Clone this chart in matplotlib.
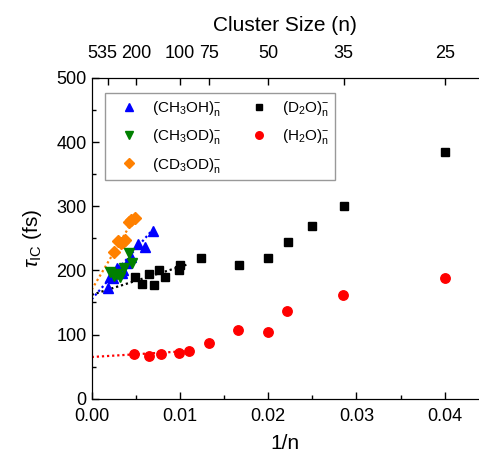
import matplotlib
matplotlib.use("Agg")
import matplotlib.pyplot as plt
from matplotlib.transforms import ScaledTranslation

plt.rcParams["font.family"] = ["Liberation Sans", "DejaVu Sans"]
plt.rcParams["mathtext.fontset"] = "custom"
plt.rcParams["mathtext.rm"] = "Liberation Sans"
plt.rcParams["mathtext.it"] = "Liberation Sans:italic"
plt.rcParams["mathtext.bf"] = "Liberation Sans:bold"

# Internal-conversion lifetimes vs inverse cluster size
ch3oh_x = [0.0019, 0.0021, 0.0024, 0.0026, 0.0029, 0.0031, 0.0034, 0.0035,
           0.0040, 0.0045, 0.0053, 0.0060, 0.0070]
ch3oh_y = [172, 190, 188, 196, 204, 201, 196, 201, 212, 221, 241, 237, 262]

ch3od_x = [0.0021, 0.0025, 0.0029, 0.0032, 0.0037, 0.0042, 0.0046]
ch3od_y = [197, 192, 195, 190, 204, 227, 212]

cd3od_x = [0.0025, 0.0030, 0.0033, 0.0036, 0.0038, 0.0042, 0.0045, 0.0049]
cd3od_y = [228, 246, 242, 244, 248, 275, 279, 281]

d2o_x = [0.0049, 0.0057, 0.0065, 0.0071, 0.0076, 0.0083, 0.0099, 0.0100,
         0.0124, 0.0167, 0.0200, 0.0222, 0.0250, 0.0286, 0.0400]
d2o_y = [190, 179, 195, 177, 201, 189, 200, 208, 220, 209, 220, 245, 269, 301, 385]

h2o_x = [0.0048, 0.0065, 0.0079, 0.0099, 0.0110, 0.0133, 0.0166, 0.0200,
         0.0221, 0.0285, 0.0400]
h2o_y = [70, 66, 70, 72, 75, 87, 107, 104, 137, 161, 188]

# Linear extrapolations to the bulk limit (1/n -> 0)
ch3oh_fit_x = [0.0, 0.0068]
ch3oh_fit_y = [155, 262]
cd3od_fit_x = [0.0, 0.0048]
cd3od_fit_y = [170, 281]
d2o_fit_x = [0.0, 0.0110]
d2o_fit_y = [162, 210]
h2o_fit_x = [0.0, 0.0105]
h2o_fit_y = [65, 74]

# Upper axis: cluster sizes
top_sizes = [535, 200, 100, 75, 50, 35, 25]

W, H = 479, 453
fig = plt.figure(figsize=(W / 100, H / 100), dpi=100)
x0, x1, y0, y1 = 91.7, 479.0, 398.7, 78.0
ax = fig.add_axes([x0 / W, (H - y0) / H, (x1 - x0) / W, (y0 - y1) / H])

xmax = (x1 - x0) / 8825.0
ax.set_xlim(0, xmax)
ax.set_ylim(0, 500)

dot = (0, (1, 1.3))
ax.plot(d2o_fit_x, d2o_fit_y, color="black", ls=dot, lw=1.6, zorder=2)
ax.plot(h2o_fit_x, h2o_fit_y, color="red", ls=dot, lw=1.6, zorder=2)
ax.plot(ch3oh_fit_x, ch3oh_fit_y, color="blue", ls=dot, lw=1.6, zorder=2)
ax.plot(cd3od_fit_x, cd3od_fit_y, color="#FF8000", ls=dot, lw=1.6, zorder=2)

h1, = ax.plot(ch3oh_x, ch3oh_y, ls="none", marker="^", ms=7.5, color="blue",
              label=r"(CH$_3$OH)$_{\rm n}^{-}$", zorder=3)
h2, = ax.plot(ch3od_x, ch3od_y, ls="none", marker="v", ms=7.5, color="#008000",
              label=r"(CH$_3$OD)$_{\rm n}^{-}$", zorder=4)
h3, = ax.plot(cd3od_x, cd3od_y, ls="none", marker="D", ms=6, color="#FF8000",
              label=r"(CD$_3$OD)$_{\rm n}^{-}$", zorder=3)
h4, = ax.plot(d2o_x, d2o_y, ls="none", marker="s", ms=6, color="black",
              label=r"(D$_2$O)$_{\rm n}^{-}$", zorder=3)
h5, = ax.plot(h2o_x, h2o_y, ls="none", marker="o", ms=6.8, color="red",
              label=r"(H$_2$O)$_{\rm n}^{-}$", zorder=3)

ax.set_xticks([0.0, 0.01, 0.02, 0.03, 0.04])
ax.set_xticks([0.005, 0.015, 0.025, 0.035], minor=True)
ax.set_xticklabels(["0.00", "0.01", "0.02", "0.03", "0.04"])
ax.set_yticks([0, 100, 200, 300, 400, 500])
ax.set_yticks([50, 150, 250, 350, 450], minor=True)
ax.tick_params(which="both", direction="in", labelsize=13, width=1, top=False, right=False)
ax.tick_params(axis="x", which="major", pad=6.5)
ax.tick_params(which="major", length=5)
ax.tick_params(which="minor", length=3)
ax.spines["right"].set_visible(False)

ax.set_xlabel("1/n", fontsize=15, labelpad=7)
ax.set_ylabel(r"$\tau_{\rm IC}$ (fs)", fontsize=15, labelpad=9)

ax2 = ax.twiny()
ax2.set_xlim(ax.get_xlim())
ax2.set_xticks([1.0 / n for n in top_sizes])
ax2.set_xticklabels([str(n) for n in top_sizes])
ax2.tick_params(direction="in", length=5, width=1, labelsize=13, pad=11.5)
ax2.spines["right"].set_visible(False)
ax2.set_xlabel("Cluster Size (n)", fontsize=15, labelpad=10)
first = ax2.get_xticklabels()[0]
first.set_transform(first.get_transform() + ScaledTranslation(-6 / 100, 0, fig.dpi_scale_trans))

leg = ax.legend(handles=[h1, h2, h3, h4, h5], ncol=2, loc="upper left",
                bbox_to_anchor=(0.034, 0.952), borderaxespad=0, fontsize=11,
                frameon=True, fancybox=False, edgecolor="#808080",
                markerscale=0.8, handlelength=2.5, handletextpad=0.25,
                columnspacing=1.2, labelspacing=0.62, borderpad=0.36)
leg.get_frame().set_linewidth(1.0)

fig.savefig("out.png", dpi=100)
